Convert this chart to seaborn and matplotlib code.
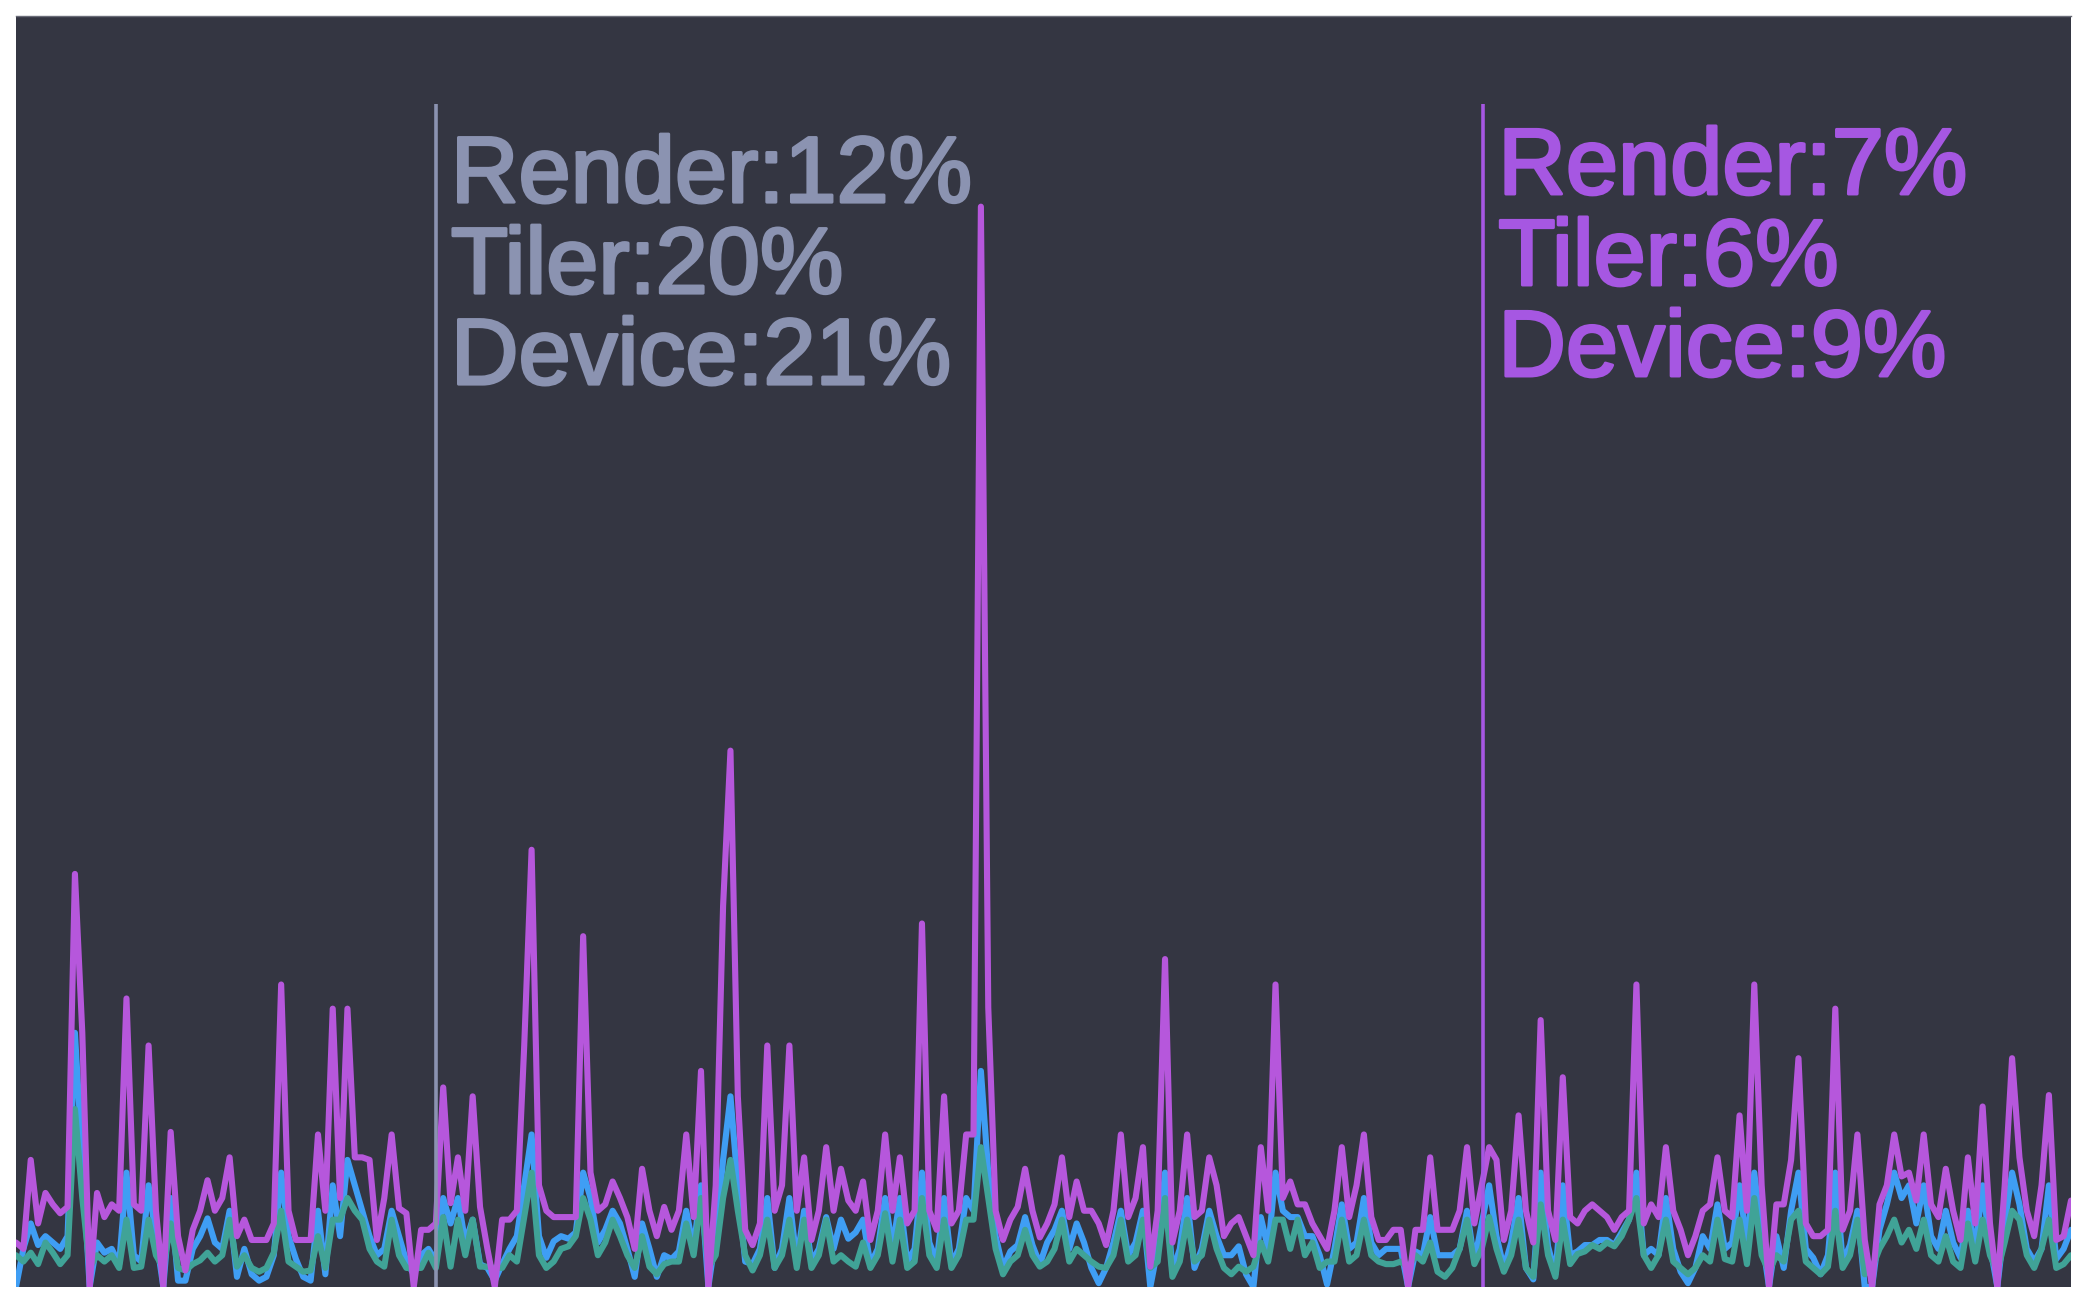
import numpy as np
import pandas as pd
import matplotlib
matplotlib.use("Agg")
import matplotlib.pyplot as plt
import matplotlib.transforms as mtransforms
import matplotlib.patheffects as pe
import seaborn as sns

# ---------------- data (percent of chart height, one sample per frame) ----------------
render = [
    3.5, 3.0, 10, 5, 7.4, 6.5, 5.8, 6.3, 32.5, 20,
    0, 7.4, 5.5, 6.5, 6.0, 22.7, 6.5, 6.0, 19, 6,
    0, 12.2, 4, 1.3, 4.5, 6, 8.4, 6, 7, 10.2,
    4, 5.3, 3.7, 3.7, 3.7, 5, 23.8, 6, 3.7, 3.7,
    3.7, 12, 6, 21.9, 7, 21.9, 10.2, 10.2, 10, 3.7,
    7, 12, 6.2, 5.8, 0, 4.5, 4.5, 5, 15.7, 6.6,
    10.2, 6, 15, 6.3, 3, 0, 5.3, 5.3, 6, 19,
    34.4, 8, 6, 5.5, 5.5, 5.5, 5.5, 27.6, 9, 6,
    6.5, 8.3, 7, 5.5, 3, 9.3, 6, 4, 6.3, 4.5,
    6, 12, 5.5, 17, 0, 8, 30, 42.2, 15, 4.5,
    3.3, 5, 19, 6, 8, 19, 6, 10.2, 3.7, 6,
    11, 6, 9.3, 6.8, 6, 8.3, 3.7, 6, 12, 6,
    10.2, 5, 6, 28.6, 6, 4.5, 15, 5, 6, 12,
    12, 85, 22, 6, 3.7, 5.3, 6.3, 9.3, 6, 3.9,
    5, 6.5, 10.2, 5.5, 8.3, 6, 6, 5, 3.3, 6,
    12, 5.5, 7, 11, 1.6, 6, 25.8, 3.5, 6, 12,
    5.5, 6, 10.2, 8, 4, 5, 5.5, 4, 2.5, 11,
    6, 23.8, 7, 8.3, 6.5, 6.5, 5, 4, 3, 6,
    11, 5.5, 8, 12, 5.5, 3.7, 3.7, 4.5, 4.5, 0,
    4.5, 4.5, 10.2, 4.5, 4.5, 4.5, 6, 11, 5, 8,
    11, 10, 3.7, 6, 13.5, 6, 3.5, 21, 6, 3.7,
    16.5, 5.5, 5, 6, 6.5, 6, 5.5, 4.5, 5.5, 6,
    23.8, 5, 6.5, 5.5, 11, 6, 4.5, 2.5, 4, 6,
    6.5, 10.2, 6, 5.5, 13.5, 6, 23.8, 8, 0, 6.5,
    6.5, 10, 18, 5, 4, 4, 4.5, 21.9, 4.5, 6,
    12, 3.7, 0, 6.5, 8, 12, 8.7, 9, 6.8, 12,
    6.5, 5.5, 9.3, 6, 3.7, 10.2, 5, 14.2, 5, 0,
    8, 18, 10.2, 6, 4, 8, 15.1, 3.7, 4, 6.8,
]

tiler = [
    0, 3.0, 5, 3.3, 4, 3.5, 3, 4, 20, 10,
    0, 3.5, 2.7, 3.0, 1.8, 9, 2.5, 2.0, 8, 4,
    0, 7, 0.5, 0.5, 3, 4, 5.4, 3.5, 3.0, 6,
    0.8, 3, 1.0, 0.5, 0.8, 2.5, 9, 4, 2.2, 0.8,
    0.5, 6, 1.0, 8, 4, 10, 8, 6, 4, 2.5,
    3, 6, 4, 2, 1, 2.5, 3, 2, 7, 5,
    7, 3.5, 5.3, 1.8, 1.5, 0.5, 1.8, 3, 4, 8,
    12, 4, 2.3, 3.6, 4.0, 3.8, 4.3, 9, 7, 3.5,
    4.5, 6, 5, 3, 0.8, 5, 3, 0.8, 2.5, 2.2,
    2.8, 6, 3.0, 8, 0, 4, 10, 15, 8, 2,
    1.8, 3, 7, 1.5, 3, 7, 2, 6, 2, 3,
    5.5, 3, 5.3, 3.8, 4.3, 5.3, 1.8, 3, 7, 3,
    7, 2.0, 3, 9, 3.5, 2, 7, 1.8, 3, 7,
    6, 17, 9, 4, 1.5, 2.8, 3.3, 5.5, 3.3, 1.8,
    3.5, 4.5, 6, 3.0, 5.0, 3.5, 1.5, 0.3, 1.5, 3.5,
    6, 2.5, 3.5, 6, 0, 3, 9, 1.2, 3, 7,
    1.5, 3, 6, 4, 2.5, 2.5, 3.2, 1.0, 0, 5.5,
    3, 9, 6, 5.5, 5.5, 4.0, 4.0, 2.5, 0.2, 3,
    6.5, 3.0, 3.5, 7, 3.5, 2.5, 3.0, 3.0, 3.0, 0,
    2.8, 2.5, 5.5, 2.5, 2.5, 2.5, 3.0, 6, 2, 5,
    8, 4, 1.5, 3.5, 7, 1.5, 0.6, 9, 3.2, 1.0,
    8, 2.5, 2.8, 3.3, 3.3, 3.7, 3.7, 3.3, 4.3, 5.3,
    9, 2.5, 3, 2.5, 7, 3.0, 1.2, 0.3, 1.5, 4,
    3, 6.5, 3.0, 3.5, 8, 3.3, 9, 4, 0, 4,
    1.5, 6, 9, 3.0, 2.3, 1.0, 2.5, 9, 2.0, 3.3,
    6, 0, 0, 4.5, 6.5, 9, 7, 8, 5, 8,
    4, 3.0, 6, 3.5, 2.3, 6, 3.0, 8, 3.2, 0,
    5, 9, 6.5, 3.0, 2.0, 3.0, 8, 2.2, 3, 4.5,
]

device = [
    2.5, 2.0, 2.7, 1.8, 3.5, 2.7, 1.8, 2.5, 14, 7,
    1.5, 2.5, 2.0, 2.5, 1.5, 5.3, 1.5, 1.6, 5.3, 2.5,
    1.5, 5, 1.5, 1.3, 1.8, 2.1, 2.7, 2.0, 2.5, 5.3,
    1.6, 2.5, 1.5, 1.2, 1.5, 2.7, 6, 2.0, 1.6, 1.2,
    1.3, 4, 1.5, 5.3, 5.3, 7, 6, 5.3, 3, 2,
    1.6, 5.3, 2.5, 1.5, 1.5, 1.5, 2.7, 1.5, 5.5, 1.6,
    5.3, 2.5, 5.3, 1.6, 1.6, 1.5, 1.5, 2.5, 2.0, 5.5,
    9, 2.5, 1.5, 2.0, 3.0, 3.2, 4.0, 7, 5.3, 2.5,
    3.5, 5.3, 4, 2.5, 1.5, 4, 1.6, 1.0, 1.8, 2.0,
    2.0, 5, 2.5, 7, 1.5, 2.5, 7, 10, 6, 2.5,
    1.3, 2.5, 5.3, 1.5, 2.5, 5.3, 1.5, 5.3, 1.5, 2.5,
    5.3, 2.0, 2.5, 2.0, 1.6, 3.5, 1.5, 2.5, 5.8, 2.0,
    5.3, 1.5, 2.0, 7, 2.5, 1.5, 5.3, 1.5, 2.5, 5.3,
    5.3, 11, 7, 3, 1.0, 2.0, 2.5, 4.5, 2.5, 1.6,
    2.0, 3.0, 5.3, 2.0, 3.0, 2.5, 2.0, 1.6, 1.5, 2.5,
    5.3, 2.0, 2.5, 5.3, 1.5, 2.0, 7, 0.8, 2.0, 5.3,
    2.0, 2.5, 5.3, 3.0, 1.5, 1.0, 1.6, 1.2, 1.6, 3.5,
    2.0, 5.3, 5.3, 3.0, 5.3, 2.5, 3.5, 1.5, 2.0, 2.0,
    5.3, 2.0, 2.5, 5.3, 2.5, 2.0, 1.8, 1.8, 2.0, 1.5,
    2.5, 2.0, 3.5, 1.2, 0.8, 1.5, 3.0, 5.3, 1.8, 3,
    5.5, 3, 1.2, 2.5, 5.3, 1.5, 0.8, 6.5, 2.5, 0.8,
    5.3, 1.8, 2.6, 2.8, 3.3, 3.0, 3.5, 3.2, 4.0, 5.3,
    7, 2.5, 1.5, 2.5, 5.3, 2.0, 1.5, 1.0, 1.5, 2.5,
    2.0, 5.3, 2.2, 2.0, 5.3, 1.8, 7, 2.5, 1.2, 2.5,
    2.0, 5.3, 6, 2.0, 1.5, 1.0, 1.6, 6, 1.5, 2.5,
    5.3, 1.0, 1.5, 3.0, 4.0, 5.3, 3.5, 4.5, 3.0, 5.3,
    2.5, 2.0, 4.0, 2.0, 1.5, 5.0, 2.0, 5.3, 2.5, 1.2,
    3.5, 6, 5.3, 2.5, 1.5, 3.0, 5.3, 1.5, 1.8, 2.5,
]

frames = list(range(len(render)))

marker_frames = [57.0, 199.2]
marker_top = 93.1
marker_labels = [
    ["Render:12%", "Tiler:20%", "Device:21%"],
    ["Render:7%", "Tiler:6%", "Device:9%"],
]

# ---------------- style ----------------
BG = "#343642"
C_RENDER = "#b657dc"
C_TILER = "#3f9ef4"
C_DEVICE = "#40a397"
MARKER_COLORS = ["#8b93b1", "#a657e2"]

sns.set_theme(style="dark")
plt.rcParams["font.family"] = ["Liberation Sans", "DejaVu Sans"]

W, H = 2082, 1298
fig = plt.figure(figsize=(W / 100, H / 100), dpi=100, facecolor="white")
ax = fig.add_axes([16 / W, 11 / H, 2055 / W, 1271 / H])
ax.set_facecolor(BG)

df = pd.DataFrame({"frame": frames, "render": render, "tiler": tiler, "device": device})

lw = 4.4
sns.lineplot(data=df, x="frame", y="tiler", ax=ax, color=C_TILER, lw=lw, zorder=2)
sns.lineplot(data=df, x="frame", y="device", ax=ax, color=C_DEVICE, lw=lw, zorder=3)
sns.lineplot(data=df, x="frame", y="render", ax=ax, color=C_RENDER, lw=lw, zorder=4)

ax.set_xlim(frames[0], frames[-1])
ax.set_ylim(0, 100)

# markers with annotations
first_baselines = [0.8536, 0.860]
line_step = 0.0716
for mx, labels, col, b0 in zip(marker_frames, marker_labels, MARKER_COLORS, first_baselines):
    ax.vlines(mx, 0, marker_top, color=col, lw=2.6, zorder=6)
    trans = mtransforms.blended_transform_factory(ax.transData, ax.transAxes)
    trans = mtransforms.offset_copy(trans, fig=fig, x=15, y=0, units="dots")
    for j, lab in enumerate(labels):
        ax.text(mx, b0 - j * line_step, lab, transform=trans, color=col,
                fontsize=67.5, ha="left", va="baseline", zorder=7,
                path_effects=[pe.withStroke(linewidth=2.2, foreground=col)])

ax.set_xticks([])
ax.set_yticks([])
ax.set_xlabel("")
ax.set_ylabel("")
for s in ["left", "right", "bottom"]:
    ax.spines[s].set_visible(False)
ax.spines["top"].set_visible(True)
ax.spines["top"].set_color("#6a6c78")
ax.spines["top"].set_linewidth(1.0)
ax.grid(False)

fig.savefig("out.png", dpi=100, facecolor="white")
